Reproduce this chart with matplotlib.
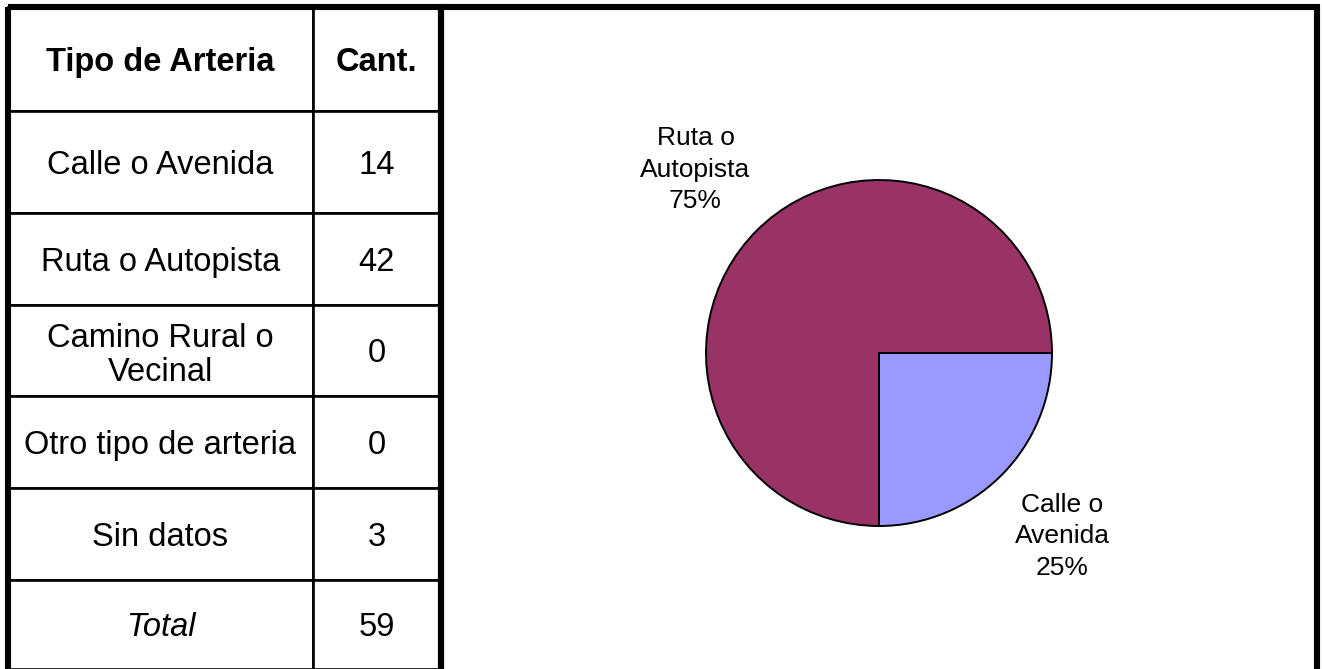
import matplotlib.pyplot as plt
from matplotlib.patches import Rectangle

plt.rcParams['font.family'] = ['Liberation Sans', 'DejaVu Sans']

# Datos de la tabla
columnas = ['Tipo de Arteria', 'Cant.']
tipos = ['Calle o Avenida', 'Ruta o Autopista', 'Camino Rural o\nVecinal',
         'Otro tipo de arteria', 'Sin datos']
cantidades = [14, 42, 0, 0, 3]
total = sum(cantidades)

# Datos del grafico de torta
torta_nombres = ['Calle o\nAvenida', 'Ruta o\nAutopista']
torta_valores = [14, 42]
torta_colores = ['#9999FF', '#993366']

W, H = 1322, 669
fig = plt.figure(figsize=(W / 100, H / 100), dpi=100)


def px_axes(x0, y0, x1, y1):
    # ejes ubicados en pixeles (origen arriba a la izquierda)
    return fig.add_axes([x0 / W, 1 - y1 / H, (x1 - x0) / W, (y1 - y0) / H])


# Tabla
ax_t = px_axes(8, 7, 440.5, 669)
ax_t.axis('off')
filas = [[t, str(c)] for t, c in zip(tipos, cantidades)] + [['Total', str(total)]]
tabla = ax_t.table(cellText=filas, colLabels=columnas, colWidths=[305, 127.5],
                   cellLoc='center', bbox=[0, 0, 1, 1])
tabla.auto_set_font_size(False)
tabla.set_fontsize(23.5)
alturas = [104, 102, 92, 91, 92, 92, 89]
for (r, c), celda in tabla.get_celld().items():
    celda.set_height(alturas[r])
    celda.set_linewidth(1.9)
    texto = celda.get_text()
    texto.set_linespacing(1.12)
    texto.set_verticalalignment('center_baseline')
for c in range(2):
    tabla[0, c].get_text().set_fontweight('bold')
tabla[len(filas), 0].get_text().set_fontstyle('italic')

# Grafico de torta
cx, cy, rad = 879, 353, 173
ax_p = px_axes(cx - 1.25 * rad, cy - 1.25 * rad, cx + 1.25 * rad, cy + 1.25 * rad)
suma = sum(torta_valores)
etiquetas = [f'{n}\n{v / suma * 100:.0f}%' for n, v in zip(torta_nombres, torta_valores)]
ax_p.pie(torta_valores, labels=etiquetas, colors=torta_colores, startangle=0,
         counterclock=False, labeldistance=1.5,
         wedgeprops=dict(edgecolor='black', linewidth=1.4),
         textprops=dict(fontsize=19, horizontalalignment='center',
                        verticalalignment='center', linespacing=1.42))

# Bordes gruesos
ov = fig.add_axes([0, 0, 1, 1])
ov.set_xlim(0, W)
ov.set_ylim(H, 0)
ov.axis('off')
ov.add_patch(Rectangle((8, 7), 432.5, 700, fill=False, lw=4.4, edgecolor='black'))
ov.add_patch(Rectangle((440.5, 7), 876.5, 700, fill=False, lw=4.4, edgecolor='black'))

fig.savefig('out.png', dpi=100)
